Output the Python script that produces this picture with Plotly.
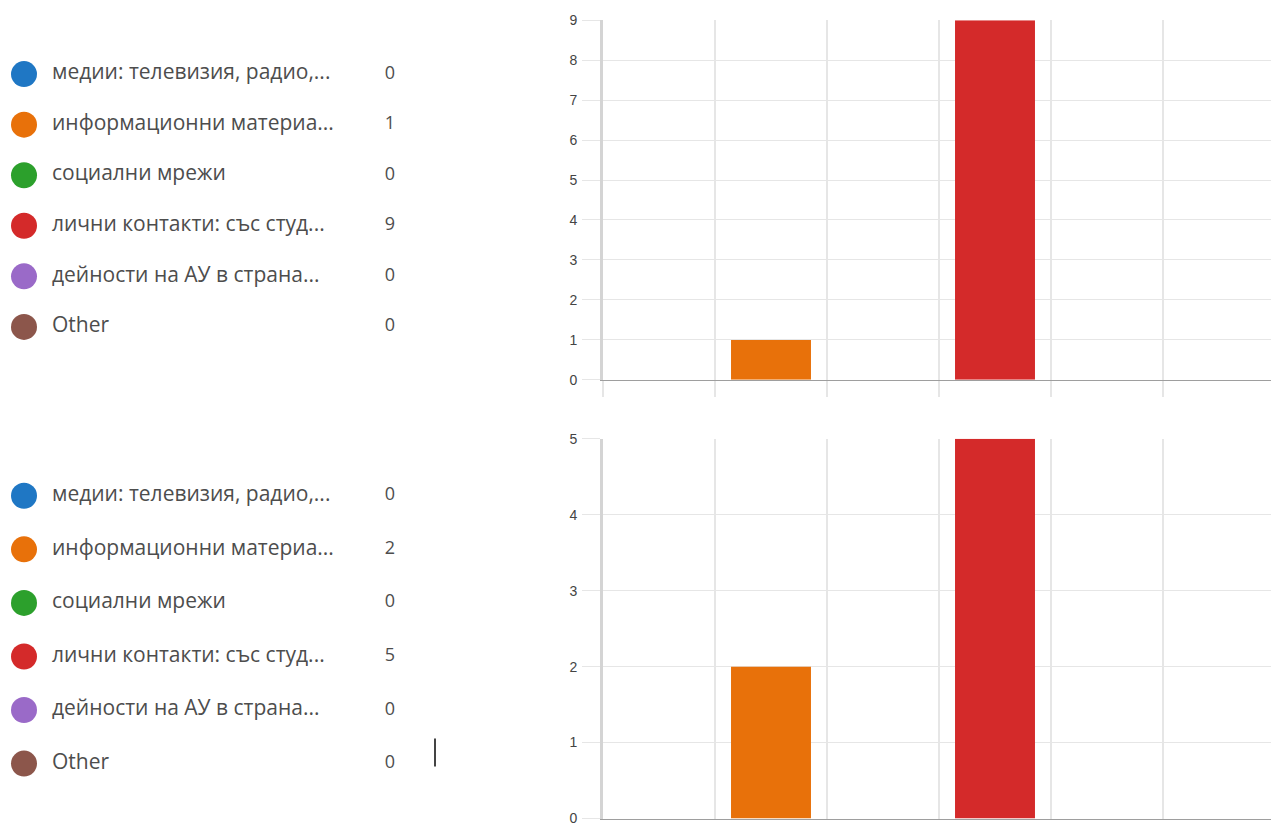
import plotly.graph_objects as go

categories = [
    "медии: телевизия, радио,...",
    "информационни материа...",
    "социални мрежи",
    "лични контакти: със студ...",
    "дейности на АУ в страна...",
    "Other",
]
values_top = [0, 1, 0, 9, 0, 0]
values_bottom = [0, 2, 0, 5, 0, 0]
colors = ["#1f77c4", "#e8710a", "#2ca02c", "#d42a2a", "#9a6ac8", "#8c564b"]
yticks_top = [0, 1, 2, 3, 4, 5, 6, 7, 8, 9]
yticks_bottom = [0, 1, 2, 3, 4, 5]

W, H = 1271, 827
GRID = "#e6e6e6"
TXT = "#4d4d4d"


def fy(y):
    # target screen pixel -> figure pixel (the capture squeezes the page slightly in height)
    return (y - 6.86) / 0.9814


def ydom(p_bottom, p_top):
    return [max(0.0, 1 - fy(p_bottom) / H), min(1.0, 1 - fy(p_top) / H)]


fig = go.Figure()

fig.add_trace(go.Bar(x=categories, y=values_top, marker=dict(color=colors, line=dict(width=0)),
                     xaxis="x", yaxis="y", showlegend=False, hoverinfo="skip"))
fig.add_trace(go.Bar(x=categories, y=values_bottom, marker=dict(color=colors, line=dict(width=0)),
                     xaxis="x2", yaxis="y2", showlegend=False, hoverinfo="skip"))

idx = list(range(len(categories)))
for vals, xa, ya in [(values_top, "x3", "y3"), (values_bottom, "x4", "y4")]:
    fig.add_trace(go.Scatter(x=[24] * len(idx), y=idx, mode="markers",
                             marker=dict(size=26, color=colors, line=dict(width=0)),
                             xaxis=xa, yaxis=ya, showlegend=False, hoverinfo="skip"))
    fig.add_trace(go.Scatter(x=[52] * len(idx), y=idx, mode="text", text=categories,
                             textposition="middle right",
                             textfont=dict(family="Open Sans", size=21, color=TXT),
                             xaxis=xa, yaxis=ya, showlegend=False, hoverinfo="skip"))
    fig.add_trace(go.Scatter(x=[390] * len(idx), y=idx, mode="text", text=[str(v) for v in vals],
                             textposition="middle center",
                             textfont=dict(family="Open Sans", size=18, color=TXT),
                             xaxis=xa, yaxis=ya, showlegend=False, hoverinfo="skip"))

x_left = 603 / W
ncat_visible = (W - 603) / 112.0
xcommon = dict(type="category", tickson="boundaries", showgrid=True, gridcolor=GRID, gridwidth=2,
               ticks="outside", tickcolor=GRID, tickwidth=2, showticklabels=False,
               showline=True, linecolor="#9e9e9e", linewidth=1, zeroline=False,
               range=[-0.5, -0.5 + ncat_visible], fixedrange=True)
ycommon = dict(showgrid=True, gridcolor=GRID, gridwidth=1, ticks="outside", ticklen=18,
               tickcolor=GRID, tickwidth=1, showline=True, linecolor="#d4d4d4", linewidth=3,
               zeroline=False, tickfont=dict(family="Liberation Sans", size=14, color="#444444"),
               ticklabelstandoff=2, tickmode="array", fixedrange=True)

top_row_sp = (fy(326) - fy(73)) / 5
bot_row_sp = (fy(763) - fy(495)) / 5
bottom_ticklen = max(0, int(H - fy(818)))

fig.update_layout(
    width=W, height=H, margin=dict(l=0, r=0, t=0, b=0),
    paper_bgcolor="white", plot_bgcolor="white", bargap=0.286,
    xaxis=dict(domain=[x_left, 1], anchor="y", ticklen=16, **xcommon),
    yaxis=dict(domain=ydom(379, 19), anchor="x", range=[0, 9], tickvals=yticks_top, **ycommon),
    xaxis2=dict(domain=[x_left, 1], anchor="y2", ticklen=bottom_ticklen, **xcommon),
    yaxis2=dict(domain=ydom(818, 438), anchor="x2", range=[0, 5], tickvals=yticks_bottom, **ycommon),
    xaxis3=dict(domain=[0, 571 / W], range=[0, 571], visible=False, anchor="y3", fixedrange=True),
    yaxis3=dict(domain=[1 - (fy(326) + top_row_sp / 2) / H, 1 - (fy(73) - top_row_sp / 2) / H],
                range=[5.5, -0.5], visible=False, anchor="x3", fixedrange=True),
    xaxis4=dict(domain=[0, 571 / W], range=[0, 571], visible=False, anchor="y4", fixedrange=True),
    yaxis4=dict(domain=[1 - (fy(763) + bot_row_sp / 2) / H, 1 - (fy(495) - bot_row_sp / 2) / H],
                range=[5.5, -0.5], visible=False, anchor="x4", fixedrange=True),
    shapes=[dict(type="line", xref="paper", yref="paper", x0=435 / W, x1=435 / W,
                 y0=1 - fy(766) / H, y1=1 - fy(738) / H, line=dict(color="#444444", width=2))],
)

post = (
    "document.documentElement.style.margin='0';"
    "document.documentElement.style.overflow='hidden';"
    "document.body.style.margin='0';"
    "document.body.style.overflow='hidden';"
    "var gd=document.querySelector('.plotly-graph-div');"
    "gd.style.position='absolute';gd.style.top='0px';gd.style.left='0px';gd.style.overflow='hidden';"
)
fig.write_html("out.html", config={"displayModeBar": False}, post_script=post)
